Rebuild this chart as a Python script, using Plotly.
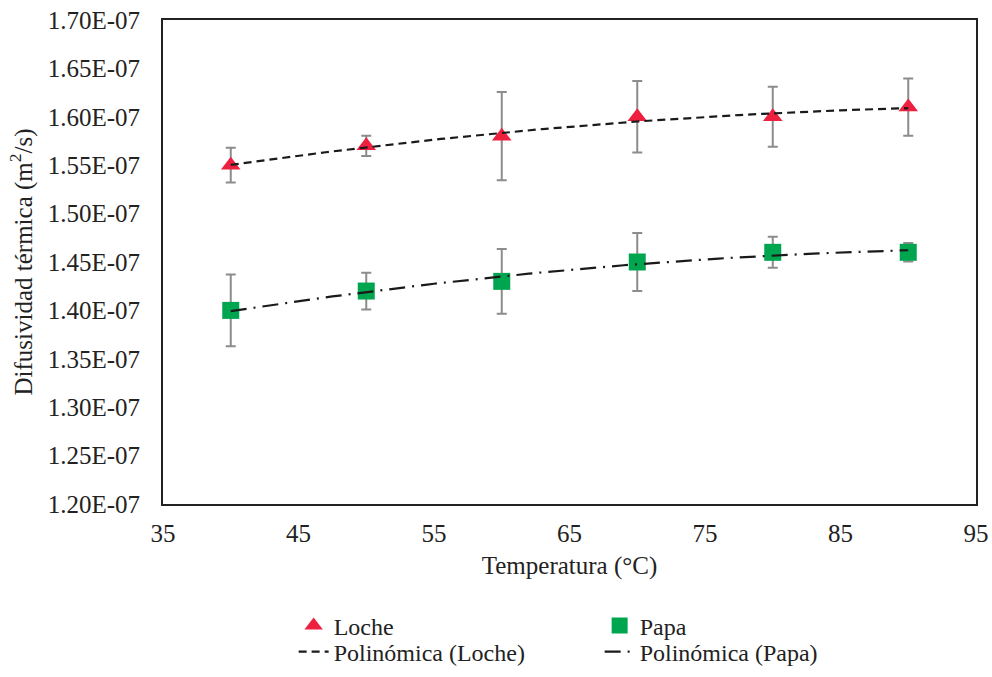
import numpy as np
import plotly.graph_objects as go

temps = [40, 50, 60, 70, 80, 90]
loche = [1.55e-7, 1.57e-7, 1.58e-7, 1.60e-7, 1.60e-7, 1.61e-7]
loche_err = [0.018e-7, 0.0105e-7, 0.0455e-7, 0.037e-7, 0.031e-7, 0.0295e-7]
papa = [1.40e-7, 1.42e-7, 1.43e-7, 1.45e-7, 1.46e-7, 1.46e-7]
papa_err = [0.037e-7, 0.019e-7, 0.0335e-7, 0.030e-7, 0.016e-7, 0.0095e-7]
x_ticks = [35, 45, 55, 65, 75, 85, 95]
y_ticks = [1.20e-7, 1.25e-7, 1.30e-7, 1.35e-7, 1.40e-7, 1.45e-7, 1.50e-7,
           1.55e-7, 1.60e-7, 1.65e-7, 1.70e-7]
y_ticktext = [f"{v:.2E}" for v in y_ticks]

FONT = "Liberation Serif, Times New Roman, serif"
FS = 25

xs = np.linspace(min(temps), max(temps), 101)
fit_loche = np.polyval(np.polyfit(temps, loche, 2), xs)
fit_papa = np.polyval(np.polyfit(temps, papa, 2), xs)

fig = go.Figure()
fig.add_trace(go.Scatter(
    x=temps, y=loche, mode="markers", name="Loche", legend="legend",
    marker=dict(symbol="triangle-up", size=17, color="#EE2040"),
    error_y=dict(type="data", array=loche_err, color="#8C8C8C", thickness=2, width=5),
))
fig.add_trace(go.Scatter(
    x=temps, y=papa, mode="markers", name="Papa", legend="legend",
    marker=dict(symbol="square", size=17, color="#00A550"),
    error_y=dict(type="data", array=papa_err, color="#8C8C8C", thickness=2, width=5),
))
fig.add_trace(go.Scatter(
    x=xs, y=fit_loche, mode="lines", name="Polinómica (Loche)", legend="legend2",
    line=dict(color="#1a1a1a", width=2.2, dash="8px,5px"),
))
fig.add_trace(go.Scatter(
    x=xs, y=fit_papa, mode="lines", name="Polinómica (Papa)", legend="legend2",
    line=dict(color="#1a1a1a", width=2.2, dash="16px,7px,2px,7px"),
))

legend_common = dict(
    orientation="h", xref="container", yref="container",
    x=0.296, xanchor="left", yanchor="middle",
    entrywidth=261, font=dict(size=24, family=FONT, color="#222222"),
    traceorder="normal", bgcolor="rgba(0,0,0,0)",
)

fig.update_layout(
    width=992, height=677,
    margin=dict(l=163, r=16, t=20, b=173, autoexpand=False),
    paper_bgcolor="white", plot_bgcolor="white",
    font=dict(family=FONT, size=FS, color="#222222"),
    showlegend=True,
    legend=dict(legend_common, y=1 - 626 / 677),
    legend2=dict(legend_common, y=1 - 652 / 677),
)
fig.update_xaxes(
    range=[35, 95], tickvals=x_ticks, ticktext=[str(t) for t in x_ticks],
    showgrid=False, zeroline=False, showline=True, linecolor="#222222",
    linewidth=2, mirror=True, ticks="", ticklabelstandoff=6, automargin=False,
    title=dict(text="Temperatura (°C)", font=dict(size=FS, family=FONT), standoff=10),
    tickfont=dict(size=FS, family=FONT),
)
fig.update_yaxes(
    range=[1.20e-7, 1.70e-7], tickvals=y_ticks, ticktext=y_ticktext,
    showgrid=False, zeroline=False, showline=True, linecolor="#222222",
    linewidth=2, mirror=True, ticks="", ticklabelstandoff=16, automargin=False,
    title=dict(text="Difusividad térmica (m<sup>2</sup>/s)", font=dict(size=FS, family=FONT), standoff=8),
    tickfont=dict(size=FS, family=FONT),
)

fig.write_html("out.html")
